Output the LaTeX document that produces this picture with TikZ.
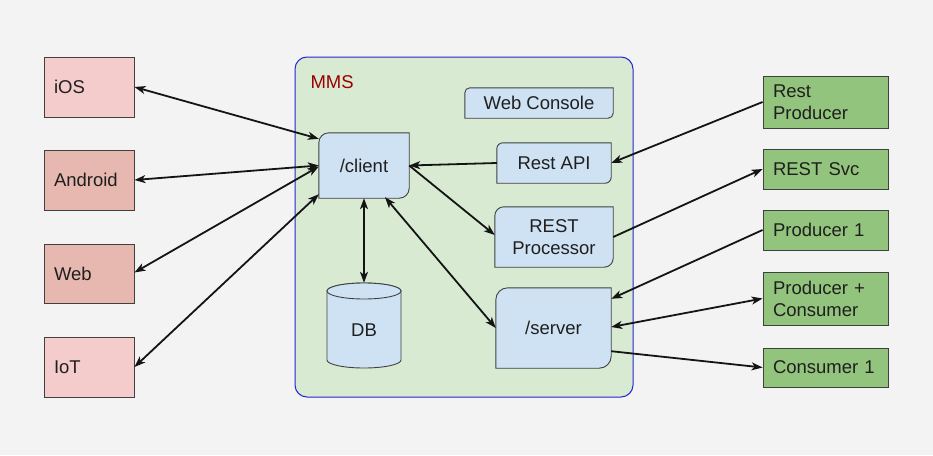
\documentclass[tikz,border=0pt]{standalone}
\usepackage{fontspec}
\setmainfont{Liberation Sans}
\usetikzlibrary{arrows.meta,backgrounds}
\definecolor{paper}{HTML}{F3F3F3}
\definecolor{mmsfill}{HTML}{D9EAD3}
\definecolor{mmsline}{HTML}{2424D8}
\definecolor{mmstext}{HTML}{990000}
\definecolor{partfill}{HTML}{CFE2F3}
\definecolor{devlight}{HTML}{F4CCCC}
\definecolor{devdark}{HTML}{E6B8AF}
\definecolor{extfill}{HTML}{93C47D}
\tikzset{
  every node/.style={font=\fontsize{18.5}{22}\selectfont, text=black!88},
  device/.style={draw=black!75, line width=0.9pt, minimum width=90pt, minimum height=60pt,
    text width=70pt, align=left, inner xsep=10pt},
  ext/.style={draw=black!75, line width=0.9pt, fill=extfill, minimum width=125pt,
    text width=105pt, align=left, inner xsep=10pt},
  part/.style={inner sep=0pt, align=center},
  partline/.style={draw=black!75, line width=0.9pt, fill=partfill},
  conn/.style={line width=1.8pt, black!92},
  >={Stealth[length=11pt,width=8pt,inset=3pt]}
}
\begin{document}
\begin{tikzpicture}[x=1pt,y=-1pt]
  \useasboundingbox (0,0) rectangle (933,455);
  \begin{scope}[on background layer]
    \fill[paper] (0,0) rectangle (933,455);
    % MMS container
    \draw[mmsline, fill=mmsfill, line width=1pt, rounded corners=12pt] (295,57) rectangle (633,397);
  \end{scope}
  \node[anchor=west, text=mmstext] (mms) at (307,82) {MMS};
  % clients
  \node[device, fill=devlight] (ios) at (89,87) {iOS};
  \node[device, fill=devdark] (android) at (89,180) {Android};
  \node[device, fill=devdark, minimum height=59pt] (web) at (89,273.5) {Web};
  \node[device, fill=devlight] (iot) at (89,367) {IoT};
  % inside MMS
  \node[part, minimum width=148pt, minimum height=30pt] (webcon) at (539,103) {Web Console};
  \node[part, minimum width=90pt, minimum height=65pt] (client) at (364,165.5) {/client};
  \node[part, minimum width=114pt, minimum height=40pt] (restapi) at (554,163) {Rest API};
  \node[part, minimum width=118pt, minimum height=60pt] (restproc) at (554,237) {REST\\Processor};
  \node[part, minimum width=115pt, minimum height=80pt] (server) at (553.5,328) {/server};
  \node[part, minimum width=74pt, minimum height=94pt] (db) at (364,330) {DB};
  % outside services
  \node[ext, minimum height=52pt] (restprod) at (825.5,102) {Rest\\Producer};
  \node[ext, minimum height=40pt] (restsvc) at (825.5,169) {REST Svc};
  \node[ext, minimum height=40pt] (prod1) at (825.5,230) {Producer 1};
  \node[ext, minimum height=53pt] (prodcons) at (825.5,298.5) {Producer +\\Consumer};
  \node[ext, minimum height=39pt] (cons1) at (825.5,367.5) {Consumer 1};
  \begin{scope}[on background layer]
    \foreach \n/\r in {webcon/5,client/10,restapi/6,restproc/9,server/12}
      \draw[partline] ([yshift=-\r pt]\n.north west) arc[start angle=180,end angle=90,radius=\r pt]
        -- (\n.north east) -- ([yshift=\r pt]\n.south east)
        arc[start angle=0,end angle=-90,radius=\r pt] -- (\n.south west) -- cycle;
    \draw[partline] (327,291) -- (327,360) arc[start angle=180,end angle=360,x radius=37pt,y radius=8pt]
      -- (401,291) arc[start angle=0,end angle=180,x radius=37pt,y radius=8pt] -- cycle;
    \draw[partline] (364,291) ellipse[x radius=37pt,y radius=8pt];
  \end{scope}
  % connectors
  \draw[conn, <->] (ios.east) -- ([yshift=-6pt]client.north west);
  \draw[conn, <->] (android.east) -- (client.west);
  \draw[conn, <->] ([yshift=1pt]web.east) -- ([yshift=-1pt]client.west);
  \draw[conn, <->] (iot.east) -- ([yshift=4pt]client.south west);
  \draw[conn, ->] (restapi.west) -- (client.east);
  \draw[conn, ->] (client.east) -- ([yshift=2pt]restproc.west);
  \draw[conn, <->] (client.south) -- (db.north);
  \draw[conn, <->] ([xshift=21pt,yshift=1pt]client.south) -- (server.west);
  \draw[conn, ->] (restprod.west) -- (restapi.east);
  \draw[conn, ->] (restproc.east) -- (restsvc.west);
  \draw[conn, ->] (prod1.west) -- ([yshift=-11pt]server.north east);
  \draw[conn, <->] (prodcons.west) -- ([yshift=1pt]server.east);
  \draw[conn, ->] ([yshift=17pt]server.south east) -- (cons1.west);
\end{tikzpicture}
\end{document}
